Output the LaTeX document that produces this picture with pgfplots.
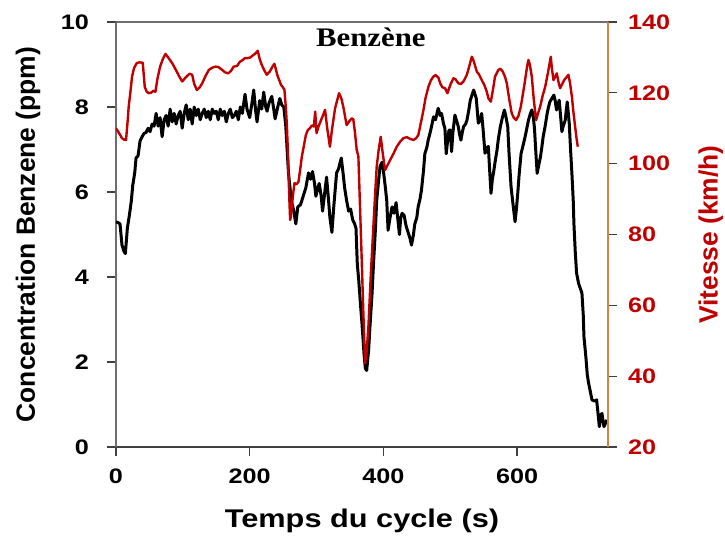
\documentclass[border=0pt]{standalone}
\usepackage{pgfplots}
\pgfplotsset{compat=1.18}
\usepackage{fontspec}
\setmainfont{Liberation Sans}[FakeStretch=1.2]
\newfontfamily\vfont{Liberation Sans}
\newfontfamily\titlefont{Liberation Serif}[FakeStretch=1.15]
\definecolor{vred}{HTML}{C00000}
\definecolor{axorange}{HTML}{D0843C}
\definecolor{axgrey}{HTML}{6E6E6E}
\pgfplotstableread{
t v
0 5.30
3 5.28
6 5.25
9 4.75
12 4.60
14 4.55
17 5.15
20 5.45
23 5.80
25 6.15
28 6.45
30 6.80
33 6.85
36 7.20
39 7.30
42 7.38
45 7.40
48 7.50
51 7.42
54 7.60
57 7.55
60 7.85
63 7.55
66 7.75
69 7.30
72 7.70
75 7.80
78 7.55
81 7.95
84 7.65
87 7.85
90 7.60
93 7.80
96 7.90
99 7.50
102 7.85
105 8.05
108 7.70
111 7.95
114 7.60
117 8.00
120 7.80
123 7.95
126 7.70
129 7.85
132 7.95
135 7.75
138 7.90
141 7.70
144 7.95
147 7.85
150 7.90
153 7.70
156 7.95
159 7.80
162 7.90
165 7.65
168 7.85
171 7.95
174 7.75
177 7.80
180 7.90
183 7.70
186 8.00
189 7.85
193 8.30
196 7.95
200 7.75
203 8.05
206 8.40
209 7.90
211 7.65
215 8.15
218 7.95
221 8.35
224 8.00
226 7.90
229 8.10
233 8.25
236 7.95
238 7.72
242 8.00
245 8.20
248 8.05
251 8.00
254 7.55
258 6.45
261 6.00
263 5.75
266 5.55
269 5.25
272 5.65
276 5.70
280 5.90
284 6.10
288 6.45
291 6.30
294 6.48
297 6.20
299 5.90
302 6.10
304 6.20
307 5.90
309 5.55
312 5.95
315 6.35
318 5.80
320 5.40
323 5.05
326 5.70
330 6.45
333 6.55
337 6.80
340 6.40
342 6.10
345 5.80
348 5.55
351 5.60
354 5.35
357 5.25
359 5.15
361 4.30
363 3.95
366 3.30
368 2.90
371 2.20
373 1.85
375 1.80
378 2.30
380 2.85
383 3.60
385 4.25
388 5.10
390 5.80
393 6.30
395 6.60
398 6.70
400 6.50
403 6.10
405 5.80
407 5.10
410 5.40
413 5.65
416 5.50
419 5.75
422 5.30
424 5.00
426 5.40
428 5.50
431 5.45
434 5.20
437 5.05
440 4.90
442 4.75
445 5.00
447 5.25
450 5.40
452 5.65
455 5.85
457 6.05
460 6.50
462 6.90
465 7.05
467 7.22
470 7.40
472 7.54
475 7.77
478 7.70
482 7.97
485 7.80
487 7.85
490 7.60
492 7.50
494 6.90
496 7.20
498 7.45
500 7.46
502 6.95
504 7.40
507 7.81
510 7.65
512 7.54
514 7.35
516 7.22
518 7.40
520 7.54
523 7.60
525 7.69
528 7.95
530 8.16
533 8.30
535 8.40
537 8.30
539 8.20
541 7.80
542 7.62
545 7.70
547 7.85
549 7.50
552 6.91
555 7.05
557 7.07
559 6.50
561 5.97
563 6.30
565 6.48
567 6.70
570 6.99
572 7.25
575 7.54
578 7.75
581 7.93
583 7.80
586 7.54
588 6.90
591 6.12
594 5.70
597 5.30
599 5.60
601 5.97
603 6.40
606 6.91
609 7.10
612 7.30
614 7.45
617 7.69
620 7.85
622 7.93
624 7.80
626 7.50
628 6.95
630 6.44
632 6.60
635 6.83
637 7.05
639 7.30
642 7.55
645 7.85
647 8.00
649 8.12
652 8.20
655 8.28
657 8.15
659 7.93
661 8.05
663 8.16
665 7.80
667 7.42
669 7.55
672 7.69
675 8.12
678 7.62
680 7.00
682 6.44
684 5.80
685 5.26
687 4.60
689 4.09
692 3.85
697 3.62
699 3.10
700 2.60
703 2.10
705 1.70
707 1.50
709 1.35
712 1.11
716 1.08
719 1.11
721 0.80
723 0.48
725 0.75
727 0.79
729 0.55
730 0.48
732 0.55
734 0.64
}\benzene
\pgfplotstableread{
t v
0 110.0
5 108.5
9 107.2
12 106.8
15 106.7
17 111.0
19 116.1
22 121.0
24 124.6
27 127.0
31 128.4
35 128.6
40 128.5
42 124.0
43 121.7
46 120.3
49 119.9
53 120.1
56 120.6
59 120.3
62 124.0
66 127.4
70 129.5
74 131.0
78 130.0
84 128.4
90 126.3
95 124.5
99 123.2
104 124.3
110 125.4
114 125.1
117 122.5
121 120.8
125 121.5
129 122.7
134 124.8
139 126.5
144 127.1
149 127.4
153 127.3
158 126.6
163 125.8
168 125.5
172 126.2
176 127.4
181 127.6
185.5 128.8
189 129.2
193 129.8
197 129.8
201 130.0
205.5 130.7
209 131.2
212 131.9
215 129.5
218 127.9
222 126.3
225.5 125.1
230 126.0
234 127.4
237 128.2
240 126.0
242 124.6
245 123.2
247 122.2
250 121.5
252 120.8
254 116.0
255.5 111.4
257 104.0
258 97.3
259.5 89.0
260.5 84.1
262 85.5
263 87.9
265 91.5
267 94.5
270 94.2
273 94.9
276 99.0
278 102.0
281 105.0
284 108.1
287 109.5
290 110.0
293 110.8
296 110.5
298 114.7
300 108.6
303 110.5
306.7 112.3
310 113.8
312.7 115.2
316 110.0
320 104.8
323 109.5
327.7 115.6
331 118.0
333.7 119.9
337 118.5
340 116.1
342 114.0
345 110.9
349 112.0
352.7 112.8
355 112.5
357.6 108.6
360 104.0
362.6 102.0
365 88.0
367.6 72.8
370 58.0
372.6 43.6
375 47.0
377.6 54.0
381 68.0
385 82.2
387.5 91.0
390 99.2
393 104.0
396 107.6
399 103.0
402.5 98.2
406 99.5
410 101.0
415 102.8
420 104.8
425 106.2
430 107.2
435 107.5
440 107.0
445 106.7
449 107.2
452.3 108.1
456 111.5
460 115.2
463 118.5
467.3 121.7
471 123.5
474.8 124.6
478 125.0
482.3 124.3
485 122.7
488 121.6
492.3 121.3
495.8 119.9
500 122.2
504.7 124.1
508 123.8
512 122.7
516 122.5
519.7 123.2
522 124.0
524.8 125.1
528 127.2
532.3 130.2
535 129.0
539.7 126.0
543 125.2
547.2 123.6
551 122.2
554.7 120.3
557 118.5
560.7 117.5
564 121.0
567 124.6
572 126.5
575 126.8
578.6 126.0
582 124.5
584.6 122.7
588 118.5
592 114.2
595 113.0
598.5 112.3
602 113.5
605.6 116.1
609 120.0
612 123.6
615 127.5
617 129.3
619 128.0
622 124.6
625 118.0
628.5 112.3
631 114.0
634.5 116.1
638 119.0
642 121.7
646 125.5
650.4 130.2
652 127.0
654.4 123.6
657 124.5
659.4 125.5
662 123.0
664.4 121.3
667 122.3
670.4 123.6
673 124.2
676.8 125.1
679 123.0
682 118.9
684 115.0
686.8 110.5
689 107.0
690.8 104.8
}\vitesse
\begin{document}
\begin{tikzpicture}
\path[use as bounding box] (-58pt,-45.5pt) rectangle (304.5pt,223.5pt);
\pgfplotsset{
  common/.style={
    at={(0,0)}, anchor=south west,
    scale only axis, width=246pt, height=212.5pt,
    xmin=0, xmax=736,
    tick align=outside, major tick length=4.5pt,
    tick style={black!75, line width=0.6pt},
    /pgf/number format/assume math mode=true,
    ticklabel style={font=\bfseries\fontsize{10.5}{12}\selectfont},
  }
}
\begin{axis}[common,
  ymin=0, ymax=10,
  axis x line*=bottom, axis y line*=left,
  x axis line style={draw=black!75, line width=0.75pt},
  y axis line style={draw=axgrey, line width=0.75pt},
  xtick={0,200,400,600}, ytick={0,2,4,6,8,10},
  xticklabel style={yshift=-3pt},
  yticklabel style={xshift=-5.5pt},
  xlabel={Temps du cycle (s)},
  ylabel={Concentration Benzene (ppm)},
  every axis x label/.style={at={(axis description cs:0.5,-0.174)}, anchor=center, font=\bfseries\fontsize{12.8}{14}\selectfont},
  every axis y label/.style={at={(axis description cs:-0.179,0.5)}, anchor=center, rotate=90, font=\vfont\bfseries\fontsize{13.2}{15}\selectfont},
]
\addplot[black, line width=1.5pt, line join=round] table[x=t,y=v] {\benzene};
\node[font=\titlefont\bfseries\fontsize{13.4}{15}\selectfont, anchor=base] at (axis description cs:0.518,0.9435) {Benzène};
\end{axis}
\begin{axis}[common,
  ymin=20, ymax=140,
  axis x line*=top, axis y line*=right,
  xtick=\empty, ytick={20,40,...,140},
  x axis line style={draw=axgrey, line width=0.75pt},
  y axis line style={draw=axorange, line width=0.75pt},
  yticklabel style={text=vred, xshift=2pt},
  ylabel={Vitesse (km/h)},
  every axis y label/.style={at={(axis description cs:1.209,0.5)}, anchor=center, rotate=90, text=vred, font=\vfont\bfseries\fontsize{13.2}{15}\selectfont},
]
\addplot[vred, line width=1.2pt, line join=round] table[x=t,y=v] {\vitesse};
\end{axis}
\end{tikzpicture}
\end{document}
